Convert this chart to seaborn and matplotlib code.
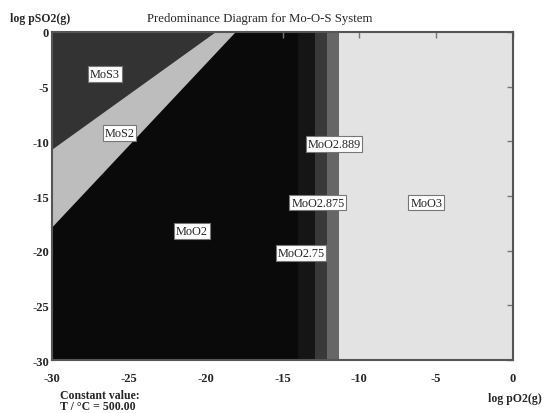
import numpy as np
import matplotlib
matplotlib.use("Agg")
import matplotlib.pyplot as plt
import seaborn as sns

# Phase-field boundaries (log pO2, log pSO2)
mos3_mos2_x = [-30.0, -19.4]
mos3_mos2_y = [-10.7, 0.0]
mos2_moo2_x = [-30.0, -18.1]
mos2_moo2_y = [-17.8, 0.0]

# Oxide stripes: left edges along log pO2
oxide_names = ["MoO2", "MoO2.75", "MoO2.875", "MoO2.889", "MoO3"]
oxide_edges = [-30.0, -14.0, -12.9, -12.1, -11.3, 0.0]
oxide_colors = ["#0a0a0a", "#151515", "#393939", "#666666", "#e3e3e3"]
mos3_color = "#333333"
mos2_color = "#bdbdbd"

# Field labels and positions
label_names = ["MoS3", "MoS2", "MoO2", "MoO2.889", "MoO2.875", "MoO2.75", "MoO3"]
label_x = [-26.55, -25.6, -20.9, -11.65, -12.7, -13.8, -5.65]
label_y = [-3.85, -9.25, -18.2, -10.25, -15.6, -20.2, -15.6]

xticks = [-30, -25, -20, -15, -10, -5, 0]
yticks = [0, -5, -10, -15, -20, -25, -30]

sns.set_style("white")
plt.rcParams["font.family"] = ["Liberation Serif", "DejaVu Serif"]

fig = plt.figure(figsize=(5.43, 4.14), dpi=100)
ax = fig.add_axes([0.0958, 0.128, 0.849, 0.7923])

# Oxide stripes
for lo, hi, c in zip(oxide_edges[:-1], oxide_edges[1:], oxide_colors):
    ax.axvspan(lo, hi, color=c, lw=0, zorder=0)

# Sulfide fields above their boundary lines
xs = np.linspace(-30, 0, 1201)
low = np.interp(xs, mos2_moo2_x, mos2_moo2_y, right=np.nan)
up = np.interp(xs, mos3_mos2_x, mos3_mos2_y, right=np.nan)
m2 = ~np.isnan(low)
m3 = ~np.isnan(up)
ax.fill_between(xs[m2], np.minimum(low[m2], 0), 0, color=mos2_color, lw=0, zorder=1)
ax.fill_between(xs[m3], np.minimum(up[m3], 0), 0, color=mos3_color, lw=0, zorder=2)

ax.set_xlim(-30, 0)
ax.set_ylim(-30, 0)
ax.set_xticks(xticks)
ax.set_yticks(yticks)
ax.set_xticklabels([str(t) for t in xticks], fontweight="bold")
ax.set_yticklabels([str(t) for t in yticks], fontweight="bold")
ax.tick_params(direction="in", length=4, width=1, color="#777777",
               top=True, right=True, labelsize=9, pad=2)
ax.tick_params(axis="x", pad=8.5)
for s in ax.spines.values():
    s.set_color("#555555")
    s.set_linewidth(1.5)
    s.set_zorder(5)

for name, lx, ly in zip(label_names, label_x, label_y):
    ax.text(lx, ly, name, ha="center", va="center", fontsize=8.8, zorder=6,
            bbox=dict(boxstyle="square,pad=0.15", fc="white", ec="#777777", lw=0.8))

fig.text(0.479, 0.953, "Predominance Diagram for Mo-O-S System", ha="center",
         va="center", fontsize=9.2)
fig.text(0.018, 0.953, "log pSO2(g)", ha="left", va="center", fontsize=8.5,
         fontweight="bold")
fig.text(0.997, 0.036, "log pO2(g)", ha="right", va="center", fontsize=8.5,
         fontweight="bold")
fig.text(0.11, 0.043, "Constant value:", ha="left", va="center", fontsize=8.5,
         fontweight="bold")
fig.text(0.11, 0.017, "T / \u00b0C = 500.00", ha="left", va="center", fontsize=8.5,
         fontweight="bold")

fig.savefig("out.png", dpi=100)
